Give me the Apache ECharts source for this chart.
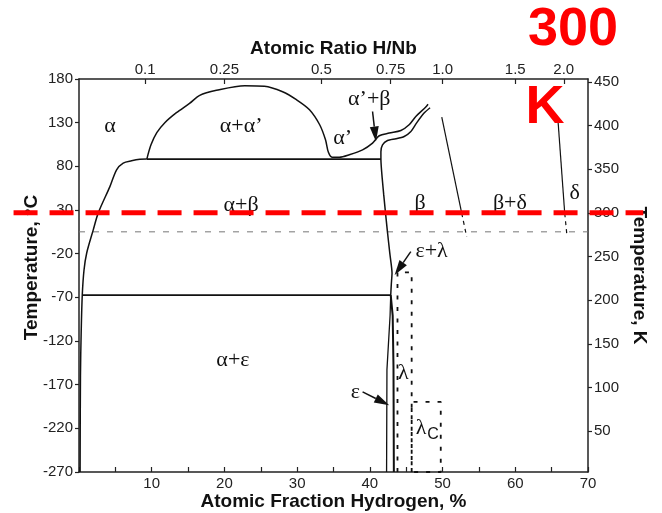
<!DOCTYPE html>
<html>
<head>
<meta charset="utf-8">
<script src="https://cdn.jsdelivr.net/npm/echarts@6/dist/echarts.min.js"></script>
<style>
  html, body { margin: 0; padding: 0; background: #fff; }
  #chart { width: 662px; height: 513px; }
</style>
</head>
<body>
<div id="chart"></div>
<script>
// Nb–H phase diagram: temperature (°C left, K right) against atomic fraction of hydrogen (%)
const KELVIN = 273.15;

// Axis ticks
const tempCTicks = [-270, -220, -170, -120, -70, -20, 30, 80, 130, 180];
const tempKTicks = [50, 100, 150, 200, 250, 300, 350, 400, 450];
const ratioTicks = [0.1, 0.25, 0.5, 0.75, 1.0, 1.5, 2.0];
const ratioLabels = ['0.1', '0.25', '0.5', '0.75', '1.0', '1.5', '2.0'];

// Phase boundaries, [H at.%, T °C]
const alphaSolvus = [[0.15, -270], [0.2, -160], [0.3, -110], [0.45, -67.4], [0.69, -38.7], [1.06, -19.2],
  [1.96, 7.2], [2.65, 26.7], [4.25, 56.8], [5.17, 76], [6.08, 83.7], [7.23, 86.3], [8.37, 88], [9.33, 88.3]];
const eutectoid88 = [[9.33, 88.3], [41.52, 88.3]];
const alphaPrimeDome = [[9.33, 88.3], [9.9, 104.6], [10.7, 118.5], [11.8, 129.9], [13.4, 141.4], [15.2, 152],
  [16.6, 161.3], [18.9, 167], [22.8, 172.3], [25.5, 171.7], [28, 165.4], [29.9, 156.3], [31.7, 144.8],
  [33.1, 127.6], [33.9, 110.4], [34.3, 96], [34.8, 90.5], [35.8, 90.4], [37.17, 93.2], [39.0, 98.9],
  [40.37, 106.6], [41.29, 115], [42.66, 118.1], [44.27, 121.1], [45.4, 127.6], [46.32, 137.1],
  [47.69, 147.9], [48.0, 151.1]];
const betaBoundary = [[48.28, 147.1], [47.46, 141], [46.41, 129.5], [45.64, 119.9], [44.72, 114.2],
  [43.58, 111.5], [42.43, 109.6], [41.74, 104.7], [41.52, 96.6], [41.52, 88.3], [41.91, 47.3],
  [42.39, 7.2], [42.75, -20], [43.05, -42], [42.95, -55], [42.87, -67.4]];
const isotherm67 = [[0.45, -67.4], [42.87, -67.4]];
const epsilonLeft = [[42.87, -67.4], [42.78, -91], [42.35, -153], [42.3, -270]];
const epsilonRight = [[42.87, -67.4], [43.14, -91], [43.25, -150], [43.3, -270]];
const betaDeltaSolid = [[49.89, 136.4], [52.63, 26.4]];
const betaDeltaDashed = [[52.63, 26.4], [53.32, -0.8]];
const deltaSolid = [[65.84, 136.2], [66.8, 26.3]];
const deltaDashed = [[66.8, 26.3], [67.12, -0.5]];
const lambdaBox = [[43.8, -270], [43.8, -41.5], [45.75, -41.5], [45.75, -270]];
const lambdaCBox = [[45.75, -270], [45.75, -189.7], [49.75, -189.7], [49.75, -270], [45.75, -270]];
const refIsotherm = [[0, 5], [70, 5]];
const roomTempK = 300;
// the 300 K marker runs past both frame edges
const roomTempSpan = [[-9, roomTempK - KELVIN, 77.6, roomTempK - KELVIN]];

// Phase field names and their positions
const phaseNames = ['α', 'α+α’', 'α’', 'α’+β', 'α+β', 'β', 'β+δ', 'δ', 'ε+λ', 'α+ε', 'ε', 'λ', '{m|λ}{s|C}'];
const phaseX = [4.25, 22.3, 36.25, 39.92, 22.3, 46.9, 59.26, 68.17, 48.49, 21.17, 38.0, 44.6, 47.9];
const phaseY = [125.6, 125.6, 112.3, 156.3, 35.8, 37.8, 37.8, 49.3, -17.7, -141.9, -178.3, -157.2, -220];

// Pointer arrows [fromX, fromY, toX, toY]
const arrowSegments = [
  [40.37, 142.8, 40.84, 108.4],
  [45.63, -17.7, 43.41, -44.4],
  [39.0, -178.3, 42.66, -193.5]
];

const ratioPositions = ratioTicks.map(r => 100 * r / (1 + r));
function ratioLabelFor(v) {
  let best = 0;
  ratioPositions.forEach((p, i) => { if (Math.abs(p - v) < Math.abs(ratioPositions[best] - v)) best = i; });
  return ratioLabels[best];
}

const INK = '#111';
const SANS = 'Liberation Sans';
const SERIF = 'Liberation Serif';

function boundary(data, opts) {
  opts = opts || {};
  return {
    type: 'line', data: data, showSymbol: false, symbol: 'none', silent: true,
    smooth: opts.smooth || 0, z: opts.z || 3,
    lineStyle: { color: opts.color || INK, width: opts.width || 1.5, type: opts.dash || 'solid' }
  };
}

const tickText = { fontFamily: SANS, fontSize: 15, color: '#222' };
const titleText = { fontFamily: SANS, fontSize: 19, fontWeight: 'bold', color: INK };
const axisLineStyle = { onZero: false, lineStyle: { color: '#222', width: 1.5 } };

const chart = echarts.init(document.getElementById('chart'));
chart.setOption({
  animation: false,
  backgroundColor: '#fff',
  grid: { left: 79, right: 74, top: 79, bottom: 41, containLabel: false, outerBoundsMode: 'none' },
  xAxis: [
    {
      type: 'value', position: 'bottom', min: 0, max: 70, interval: 5,
      name: 'Atomic Fraction Hydrogen, %', nameLocation: 'middle', nameGap: 20, nameMoveOverlap: false,
      nameTextStyle: titleText,
      axisLine: axisLineStyle,
      axisTick: { inside: true, length: 5, lineStyle: { color: '#222', width: 1.2 } },
      axisLabel: Object.assign({ margin: 4, formatter: v => (v > 0 && v % 10 === 0) ? String(v) : '' }, tickText),
      splitLine: { show: false }
    },
    {
      type: 'value', position: 'top', min: 0, max: 70,
      name: 'Atomic Ratio H/Nb', nameLocation: 'middle', nameGap: 21, nameMoveOverlap: false,
      nameTextStyle: titleText,
      axisLine: axisLineStyle,
      axisTick: { inside: true, length: 5, customValues: ratioPositions, lineStyle: { color: '#222', width: 1.2 } },
      axisLabel: Object.assign({ margin: 2, customValues: ratioPositions, formatter: v => ratioLabelFor(v) }, tickText),
      splitLine: { show: false }
    }
  ],
  yAxis: [
    {
      type: 'value', position: 'left', min: -270, max: 180,
      name: 'Temperature, °C', nameLocation: 'middle', nameRotate: 90, nameGap: 38, nameMoveOverlap: false,
      nameTextStyle: Object.assign({ padding: [0, 0, 0, 16] }, titleText),
      axisLine: axisLineStyle,
      axisTick: { inside: false, length: 4, customValues: tempCTicks, lineStyle: { color: '#222', width: 1.2 } },
      axisLabel: Object.assign({ margin: 6, customValues: tempCTicks }, tickText),
      splitLine: { show: false }
    },
    {
      type: 'value', position: 'right', min: -270 + KELVIN, max: 180 + KELVIN,
      name: 'Temperature, K', nameLocation: 'middle', nameRotate: -90, nameGap: 42, nameMoveOverlap: false,
      nameTextStyle: titleText,
      axisLine: axisLineStyle,
      axisTick: { inside: false, length: 4, customValues: tempKTicks, lineStyle: { color: '#222', width: 1.2 } },
      axisLabel: Object.assign({ margin: 6, customValues: tempKTicks }, tickText),
      splitLine: { show: false }
    }
  ],
  graphic: [
    {
      type: 'text', x: 573, y: 30, z: 100,
      style: {
        text: '300', font: 'bold 54px "Liberation Sans"', fill: '#ff0000',
        align: 'center', verticalAlign: 'middle', textAlign: 'center', textVerticalAlign: 'middle',
        shadowColor: 'rgba(0,0,0,0.3)', shadowBlur: 3, shadowOffsetX: 1, shadowOffsetY: 1
      }
    },
    {
      type: 'text', x: 545, y: 108, z: 100,
      style: {
        text: 'K', font: 'bold 54px "Liberation Sans"', fill: '#ff0000',
        align: 'center', verticalAlign: 'middle', textAlign: 'center', textVerticalAlign: 'middle',
        shadowColor: 'rgba(0,0,0,0.3)', shadowBlur: 3, shadowOffsetX: 1, shadowOffsetY: 1
      }
    }
  ],
  series: [
    boundary(refIsotherm, { color: '#777', width: 1, dash: [6, 8] }),
    boundary(alphaSolvus, { smooth: 0.3 }),
    boundary(eutectoid88, { width: 1.8 }),
    boundary(alphaPrimeDome, { smooth: 0.3 }),
    boundary(betaBoundary, { smooth: 0.2 }),
    boundary(isotherm67, { width: 1.8 }),
    boundary(epsilonLeft, { width: 1.3 }),
    boundary(epsilonRight, { width: 2 }),
    boundary(betaDeltaSolid, { width: 1.2 }),
    boundary(betaDeltaDashed, { width: 1.2, dash: [4, 4] }),
    boundary(deltaSolid, { width: 1.2 }),
    boundary(deltaDashed, { width: 1.2, dash: [4, 4] }),
    boundary(lambdaBox, { width: 1.8, dash: [4, 7.5] }),
    boundary(lambdaCBox, { width: 1.8, dash: [4, 8] }),
    {
      type: 'custom', silent: true, z: 5,
      data: arrowSegments,
      encode: { x: [0, 2], y: [1, 3] },
      renderItem: function (params, api) {
        const a = api.coord([api.value(0), api.value(1)]);
        const b = api.coord([api.value(2), api.value(3)]);
        const dx = b[0] - a[0], dy = b[1] - a[1];
        const len = Math.hypot(dx, dy);
        const ux = dx / len, uy = dy / len;
        const head = 15, half = 4.5;
        const bx = b[0] - ux * head, by = b[1] - uy * head;
        return {
          type: 'group',
          children: [
            { type: 'line', shape: { x1: a[0], y1: a[1], x2: bx, y2: by }, style: { stroke: INK, lineWidth: 1.5 } },
            { type: 'polygon', shape: { points: [[b[0], b[1]], [bx - uy * half, by + ux * half], [bx + uy * half, by - ux * half]] }, style: { fill: INK } }
          ]
        };
      }
    },
    {
      type: 'custom', silent: true, z: 6,
      data: phaseNames.map((n, i) => [phaseX[i], phaseY[i], i]),
      encode: { x: 0, y: 1 },
      renderItem: function (params, api) {
        const p = api.coord([api.value(0), api.value(1)]);
        return {
          type: 'text', x: p[0], y: p[1],
          style: {
            text: phaseNames[api.value(2)],
            fontFamily: SERIF, fontSize: 22, fill: INK,
            align: 'center', verticalAlign: 'middle',
            rich: {
              m: { fontFamily: SERIF, fontSize: 22, fill: INK, verticalAlign: 'middle' },
              s: { fontFamily: SANS, fontSize: 16, fill: INK, padding: [12, 0, 0, 1] }
            }
          }
        };
      }
    },
    {
      type: 'custom', silent: true, z: 50, clip: false,
      data: roomTempSpan,
      encode: { x: [0, 2], y: [1, 3] },
      renderItem: function (params, api) {
        const a = api.coord([api.value(0), api.value(1)]);
        const b = api.coord([api.value(2), api.value(3)]);
        return {
          type: 'line', shape: { x1: a[0], y1: a[1], x2: b[0], y2: b[1] },
          style: { stroke: '#ff0000', lineWidth: 5, lineDash: [24, 12] }
        };
      }
    }
  ]
});
</script>
</body>
</html>
